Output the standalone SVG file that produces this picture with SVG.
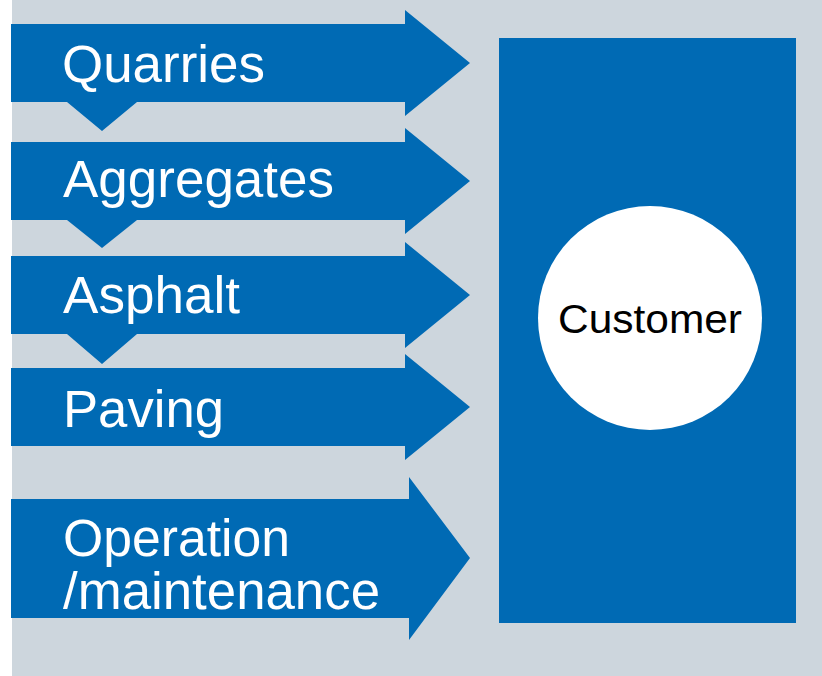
<svg xmlns="http://www.w3.org/2000/svg" width="822" height="676" viewBox="0 0 822 676">
<style>
.arrow{fill:#006ab4}
.lbl{fill:#ffffff;font-family:"Liberation Sans",Arial,sans-serif;font-size:51px}
.cust{fill:#000000;font-family:"Liberation Sans",Arial,sans-serif;font-size:40px}
</style>
<rect x="0" y="0" width="822" height="676" fill="#ffffff"/>
<rect x="12" y="0" width="810" height="676" fill="#cdd6dd"/>
<g id="quarries">
<path class="arrow" d="M11,24 H405 V10 L470,63 L405,116 V102 H137 L102,131 L67,102 H11 Z"/>
<text class="lbl" x="62" y="82" textLength="203" lengthAdjust="spacingAndGlyphs">Quarries</text>
</g>
<g id="aggregates">
<path class="arrow" d="M11,142 H405 V128 L470,181 L405,234 V220 H137 L102,248 L67,220 H11 Z"/>
<text class="lbl" x="63" y="197" textLength="271" lengthAdjust="spacingAndGlyphs">Aggregates</text>
</g>
<g id="asphalt">
<path class="arrow" d="M11,256 H405 V242 L470,295 L405,348 V334 H137 L102,364 L67,334 H11 Z"/>
<text class="lbl" x="63" y="313" textLength="177" lengthAdjust="spacingAndGlyphs">Asphalt</text>
</g>
<g id="paving">
<path class="arrow" d="M11,368 H405 V354 L470,407 L405,460 V446 H11 Z"/>
<text class="lbl" x="63" y="427" textLength="161" lengthAdjust="spacingAndGlyphs">Paving</text>
</g>
<g id="operation">
<path class="arrow" d="M11,499 H409 V477 L470,558 L409,640 V618 H11 Z"/>
<text class="lbl" x="63" y="556" textLength="227" lengthAdjust="spacingAndGlyphs">Operation</text>
<text class="lbl" x="63" y="609" textLength="317" lengthAdjust="spacingAndGlyphs">/maintenance</text>
</g>
<g id="customer">
<rect x="499" y="38" width="297" height="585" fill="#006ab4"/>
<circle cx="650" cy="318" r="112" fill="#ffffff"/>
<text class="cust" x="558" y="333" textLength="184" lengthAdjust="spacingAndGlyphs">Customer</text>
</g>
<g id="connectors"></g>
</svg>
